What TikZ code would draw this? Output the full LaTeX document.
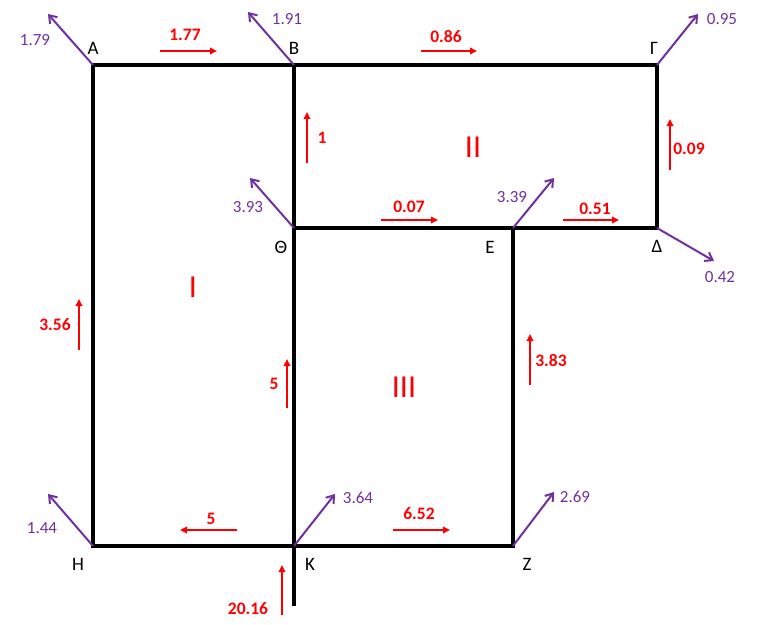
\documentclass[tikz,border=0pt]{standalone}
\usepackage{fontspec}
\setmainfont{Carlito}
\usetikzlibrary{arrows.meta}
\definecolor{flowred}{RGB}{255,0,0}
\definecolor{outpurple}{RGB}{112,48,160}
\tikzset{
  pipe/.style={line width=4.5pt, black, line cap=rect},
  outflow/.style={outpurple, line width=2pt, -{Straight Barb[length=7pt,width=10pt,line width=2pt]}},
  flowarrow/.style={flowred, line width=2pt, -{Triangle[length=7pt,width=6.5pt]}},
  vlabel/.style={font=\fontsize{19}{19}\selectfont, text=black, inner sep=0pt},
  plabel/.style={font=\fontsize{17}{17}\selectfont, text=outpurple, inner sep=0pt},
  rlabel/.style={font=\fontsize{17.5}{17.5}\selectfont\bfseries, text=flowred, inner sep=0pt},
  loop/.style={font=\fontsize{32}{32}\selectfont, text=flowred, inner sep=0pt}
}
\begin{document}
\begin{tikzpicture}[x=1pt,y=-1pt]
\useasboundingbox (0,0) rectangle (763,624);
% vertices
\coordinate (A) at (93,65);
\coordinate (B) at (294,65);
\coordinate (G) at (657,65);
\coordinate (D) at (657,228);
\coordinate (E) at (513,228);
\coordinate (Th) at (294,228);
\coordinate (K) at (294,546);
\coordinate (H) at (93,546);
\coordinate (Z) at (513,546);
\coordinate (Kin) at (294,604);
% pipes
\draw[pipe] (A) -- (G) -- (D) -- (Th);
\draw[pipe] (A) -- (H) -- (Z) -- (E);
\draw[pipe] (B) -- (Kin);
% vertex labels
\node[vlabel] (lA) at (93,48) {Α};
\node[vlabel] (lB) at (294,48) {Β};
\node[vlabel] (lG) at (654,48) {Γ};
\node[vlabel] (lTh) at (281,247) {Θ};
\node[vlabel] (lE) at (490,247) {Ε};
\node[vlabel] (lD) at (657,246) {Δ};
\node[vlabel] (lH) at (78,564) {Η};
\node[vlabel] (lK) at (310,564) {Κ};
\node[vlabel] (lZ) at (527,564) {Ζ};
% outflows
\coordinate (oA) at (48,14);
\coordinate (oB) at (248,12);
\coordinate (oG) at (698,14);
\coordinate (oTh) at (250,178);
\coordinate (oE) at (554,178);
\coordinate (oD) at (714,261);
\coordinate (oH) at (48,494);
\coordinate (oK) at (335,494);
\coordinate (oZ) at (554,492);
\draw[outflow] (A) -- (oA);
\draw[outflow] (B) -- (oB);
\draw[outflow] (G) -- (oG);
\draw[outflow] (Th) -- (oTh);
\draw[outflow] (E) -- (oE);
\draw[outflow] (D) -- (oD);
\draw[outflow] (H) -- (oH);
\draw[outflow] (K) -- (oK);
\draw[outflow] (Z) -- (oZ);
\node[plabel] (qA) at (35,40) {1.79};
\node[plabel] (qB) at (287,19) {1.91};
\node[plabel] (qG) at (722,19) {0.95};
\node[plabel] (qTh) at (248,207) {3.93};
\node[plabel] (qE) at (512,197) {3.39};
\node[plabel] (qD) at (720,277) {0.42};
\node[plabel] (qH) at (42,528) {1.44};
\node[plabel] (qK) at (358,498) {3.64};
\node[plabel] (qZ) at (575,497) {2.69};
% flow arrows
\coordinate (f1s) at (160,51); \coordinate (f1e) at (217,51);
\coordinate (f2s) at (421,51); \coordinate (f2e) at (477,51);
\coordinate (f3s) at (307,163); \coordinate (f3e) at (307,112);
\coordinate (f4s) at (670,170); \coordinate (f4e) at (670,119);
\coordinate (f5s) at (381,220); \coordinate (f5e) at (438,220);
\coordinate (f6s) at (563,220); \coordinate (f6e) at (619,220);
\coordinate (f7s) at (79,350); \coordinate (f7e) at (79,299);
\coordinate (f8s) at (287,408); \coordinate (f8e) at (287,359);
\coordinate (f9s) at (530,385); \coordinate (f9e) at (530,334);
\coordinate (f10s) at (237,530); \coordinate (f10e) at (180,530);
\coordinate (f11s) at (393,530); \coordinate (f11e) at (450,530);
\coordinate (f12s) at (282,615); \coordinate (f12e) at (282,565);
\foreach \i in {1,...,12} {\draw[flowarrow] (f\i s) -- (f\i e);}
\node[rlabel] (r1) at (185,35) {1.77};
\node[rlabel] (r2) at (446,37) {0.86};
\node[rlabel] (r3) at (322,138) {1};
\node[rlabel] (r4) at (689,149) {0.09};
\node[rlabel] (r5) at (409,207) {0.07};
\node[rlabel] (r6) at (595,209) {0.51};
\node[rlabel] (r7) at (55,325) {3.56};
\node[rlabel] (r8) at (274,384) {5};
\node[rlabel] (r9) at (551,361) {3.83};
\node[rlabel] (r10) at (211,519) {5};
\node[rlabel] (r11) at (419,514) {6.52};
\node[rlabel] (r12) at (248,609) {20.16};
% loop labels
\node[loop] (L1) at (193,287) {I};
\node[loop] (L2) at (473,147) {II};
\node[loop] (L3) at (404,387) {III};
\end{tikzpicture}
\end{document}
